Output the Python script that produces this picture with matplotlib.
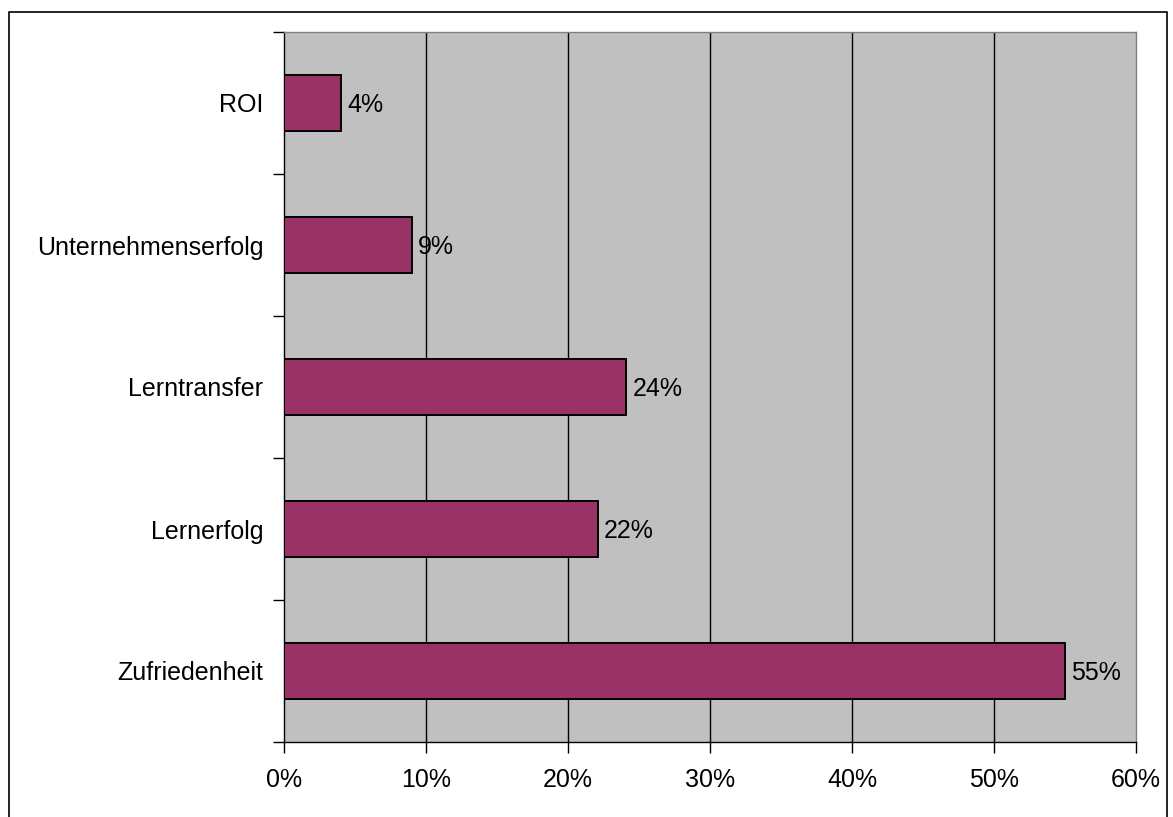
import matplotlib.pyplot as plt
import matplotlib.patches as patches
from matplotlib.ticker import FuncFormatter

plt.rcParams['font.family'] = ['Liberation Sans', 'DejaVu Sans']

categories = ["Zufriedenheit", "Lernerfolg", "Lerntransfer", "Unternehmenserfolg", "ROI"]
shares = [55, 22.1, 24.1, 9, 4]
labels = ["55%", "22%", "24%", "9%", "4%"]
x_ticks = [0, 10, 20, 30, 40, 50, 60]

bar_color = "#993366"
panel_color = "#C0C0C0"
fs = 18

fig = plt.figure(figsize=(11.73, 8.17), dpi=100)
ax = fig.add_axes([284 / 1173, 1 - 742 / 817, 852 / 1173, 710 / 817])
ax.set_facecolor(panel_color)

y = range(len(categories))
ax.barh(y, shares, height=0.4, color=bar_color, edgecolor="black", linewidth=1.4, zorder=3)

for yi, v, lab in zip(y, shares, labels):
    ax.text(v + 0.45, yi - 0.015, lab, va="center", ha="left", fontsize=fs, zorder=4)

ax.set_xlim(0, 60)
ax.set_ylim(-0.5, len(categories) - 0.5)
ax.set_xticks(x_ticks)
ax.xaxis.set_major_formatter(FuncFormatter(lambda v, p: f"{v:.0f}%"))

# category labels centred, ticks at the category boundaries
ax.set_yticks([i - 0.5 for i in range(len(categories) + 1)])
ax.set_yticklabels([])
ax.set_yticks(list(y), minor=True)
ax.set_yticklabels(categories, minor=True)
ax.tick_params(axis="y", which="minor", length=0, pad=15, labelsize=fs)
ax.tick_params(axis="y", which="major", length=8, width=1, direction="out")
ax.tick_params(axis="x", length=8, width=1, direction="out", pad=11, labelsize=fs)

for xv in x_ticks[1:-1]:
    ax.axvline(xv, color="black", linewidth=1, zorder=1)

ax.spines["left"].set_color("black")
ax.spines["bottom"].set_color("black")
ax.spines["top"].set_color("#808080")
ax.spines["right"].set_color("#808080")
for s in ax.spines.values():
    s.set_linewidth(1)

# outer chart frame
fig.patches.append(patches.Rectangle((9 / 1173, -0.05), 1158 / 1173, 1 - 12 / 817 + 0.05,
                                     transform=fig.transFigure, fill=False,
                                     edgecolor="black", linewidth=1.2))

fig.savefig("out.png", dpi=100)
